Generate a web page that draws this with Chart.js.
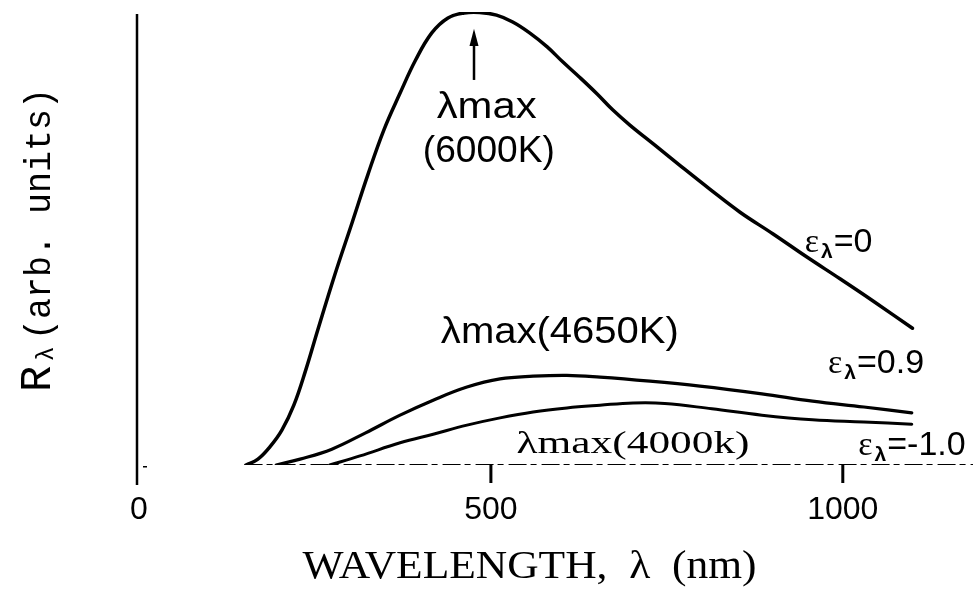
<!DOCTYPE html>
<html>
<head>
<meta charset="utf-8">
<script src="https://cdn.jsdelivr.net/npm/chart.js@4/dist/chart.umd.min.js"></script>
<style>
  html, body { margin: 0; padding: 0; background: #fff; }
  #wrap { width: 974px; height: 603px; }
</style>
</head>
<body>
<div id="wrap"><canvas id="c" width="974" height="603"></canvas></div>
<script>
// Wavelength axis ticks (nm)
const wavelengthTicks = [0, 500, 1000];

// Spectral radiance, emissivity 0 (6000 K)
const eps0Wavelength = [152, 169, 186, 203, 220, 237, 254, 278, 303, 325, 348, 371, 393, 416, 439, 462, 484, 508, 531, 555, 580, 602, 626, 651, 673, 697, 733, 768, 811, 854, 901, 949, 996, 1043, 1099];
const eps0Value      = [0, 1.3, 4.0, 7.7, 13.2, 21.0, 29.8, 41.9, 53.6, 64.0, 74.0, 82.1, 89.4, 95.4, 98.7, 99.8, 99.9, 99.3, 97.8, 95.4, 92.3, 89.0, 85.6, 81.9, 78.4, 75.1, 70.6, 66.2, 60.9, 55.8, 51.0, 45.9, 41.1, 36.2, 30.2];

// Emissivity 0.9 (4650 K)
const eps09Wavelength = [195, 229, 274, 322, 371, 418, 466, 513, 560, 608, 655, 726, 797, 885, 957, 1030, 1098];
const eps09Value      = [0, 1.3, 3.5, 7.1, 11.0, 14.3, 17.2, 19.0, 19.6, 19.8, 19.4, 18.5, 17.4, 15.7, 14.1, 12.8, 11.5];

// Emissivity 1.0 (4000 K)
const eps1Wavelength = [271, 314, 371, 418, 466, 513, 560, 608, 655, 702, 747, 814, 885, 957, 1030, 1098];
const eps1Value      = [0, 2.0, 4.9, 6.8, 8.8, 10.4, 11.7, 12.6, 13.2, 13.7, 13.6, 12.4, 11.0, 10.0, 9.5, 9.0];

// Zero line
const baselineWavelength = [150, 1185];
const baselineValue      = [0, 0];

const toPoints = (xs, ys) => xs.map((x, i) => ({ x, y: ys[i] }));

const curveStyle = {
  borderColor: '#000',
  pointRadius: 0,
  fill: false,
  tension: 0.4,
  borderCapStyle: 'round',
  borderJoinStyle: 'round'
};

// draw text squeezed/stretched horizontally to a given width
function fitText(ctx, txt, font, x, y, width, align) {
  ctx.font = font;
  const w = ctx.measureText(txt).width;
  const s = width / w;
  ctx.save();
  ctx.translate(x, y);
  ctx.scale(s, 1);
  ctx.textAlign = align || 'center';
  ctx.textBaseline = 'alphabetic';
  ctx.fillText(txt, 0, 0);
  ctx.restore();
}

// ε with λ subscript followed by "=value"
function epsLabel(ctx, x, y, rest) {
  ctx.save();
  ctx.textAlign = 'left';
  ctx.textBaseline = 'alphabetic';
  ctx.font = '34px "Liberation Serif"';
  ctx.fillText('ε', x, y);
  let cx = x + ctx.measureText('ε').width + 2;
  ctx.font = 'bold 21px "Liberation Sans"';
  ctx.fillText('λ', cx, y + 6);
  cx += ctx.measureText('λ').width + 1;
  ctx.font = '34px "Liberation Sans"';
  ctx.fillText(rest, cx, y);
  ctx.restore();
}

const decorations = {
  id: 'decorations',
  beforeDraw(chart) {
    const ctx = chart.ctx;
    ctx.save();
    ctx.fillStyle = '#fff';
    ctx.fillRect(0, 0, chart.width, chart.height);
    ctx.restore();
  },
  afterDraw(chart) {
    const ctx = chart.ctx;
    const xs = chart.scales.x, ys = chart.scales.y;
    const X = v => xs.getPixelForValue(v);
    const Y = v => ys.getPixelForValue(v);
    const yZero = Y(0);
    ctx.save();
    ctx.setLineDash([]);
    ctx.fillStyle = '#000';
    ctx.strokeStyle = '#000';

    // vertical axis line at zero wavelength, running a little below the zero line
    const x0 = X(0) - 2;
    ctx.fillRect(x0 - 1.25, Y(100) + 2, 2.5, yZero + 20 - Y(100) - 2);
    ctx.fillRect(x0 + 6, yZero + 1, 4, 1.5);

    // tick marks hanging below the zero line
    for (const v of wavelengthTicks) {
      if (v === 0) continue;
      const tx = X(v);
      ctx.fillRect(tx - 1.5, yZero - 1, 3, 19);
    }

    // arrow to the 6000 K peak
    const ax = X(476);
    ctx.fillRect(ax - 1.25, Y(93), 2.5, Y(85) - Y(93));
    ctx.beginPath();
    ctx.moveTo(ax, Y(96.3));
    ctx.lineTo(ax - 4.5, Y(92.5));
    ctx.lineTo(ax + 4.5, Y(92.5));
    ctx.closePath();
    ctx.fill();

    // peak annotations
    fitText(ctx, 'λmax', '36px "Liberation Sans"', X(494), Y(76.6), 100);
    fitText(ctx, '(6000K)', '36px "Liberation Sans"', X(497), Y(66.9), 132);
    fitText(ctx, 'λmax(4650K)', '37px "Liberation Sans"', X(598), Y(26.9), 238);
    fitText(ctx, 'λmax(4000k)', '31px "Liberation Serif"', X(702), Y(2.6), 233);

    // emissivity labels
    epsLabel(ctx, X(946), Y(47.0), '=0');
    epsLabel(ctx, X(979), Y(20.3), '=0.9');
    epsLabel(ctx, X(1022), Y(2.2), '=-1.0');

    // x axis title
    fitText(ctx, 'WAVELENGTH,  λ  (nm)', '40px "Liberation Serif"', X(555), Y(-24.9), 454);

    // y axis title, rotated, R with λ subscript
    ctx.save();
    ctx.translate(50, 392);
    ctx.rotate(-Math.PI / 2);
    ctx.textAlign = 'left';
    ctx.textBaseline = 'alphabetic';
    ctx.font = '44px "Liberation Mono"';
    ctx.fillText('R', 0, 0);
    ctx.font = '24px "Liberation Mono"';
    ctx.fillText('λ', 31, 3);
    ctx.restore();
    ctx.save();
    ctx.translate(50, 340);
    ctx.rotate(-Math.PI / 2);
    fitText(ctx, '(arb. units)', '36px "Liberation Mono"', 0, 0, 252, 'left');
    ctx.restore();

    ctx.restore();
  }
};

new Chart(document.getElementById('c'), {
  type: 'line',
  data: {
    datasets: [
      { ...curveStyle, data: toPoints(eps0Wavelength, eps0Value), borderWidth: 3.5 },
      { ...curveStyle, data: toPoints(eps09Wavelength, eps09Value), borderWidth: 3.2 },
      { ...curveStyle, data: toPoints(eps1Wavelength, eps1Value), borderWidth: 3 },
      { ...curveStyle, data: toPoints(baselineWavelength, baselineValue), borderWidth: 2, borderDash: [18, 4, 6, 5], tension: 0, borderCapStyle: 'butt' }
    ]
  },
  options: {
    responsive: false,
    animation: false,
    layout: { padding: { left: 139, top: 12, right: 1, bottom: 0 } },
    plugins: { legend: { display: false }, tooltip: { enabled: false } },
    scales: {
      x: {
        type: 'linear',
        min: 0,
        max: 1185,
        afterBuildTicks: s => { s.ticks = wavelengthTicks.map(v => ({ value: v })); },
        afterFit: s => { s.height = 138; },
        border: { display: false },
        grid: { drawOnChartArea: false, drawTicks: true, tickLength: 18, color: 'rgba(0,0,0,0)', lineWidth: 2 },
        ticks: {
          color: '#000',
          font: { family: 'Liberation Sans', size: 32 },
          padding: 8,
          maxRotation: 0,
          autoSkip: false,
          callback: v => String(v)
        }
      },
      y: { display: false, min: 0, max: 100 }
    }
  },
  plugins: [decorations]
});
</script>
</body>
</html>
